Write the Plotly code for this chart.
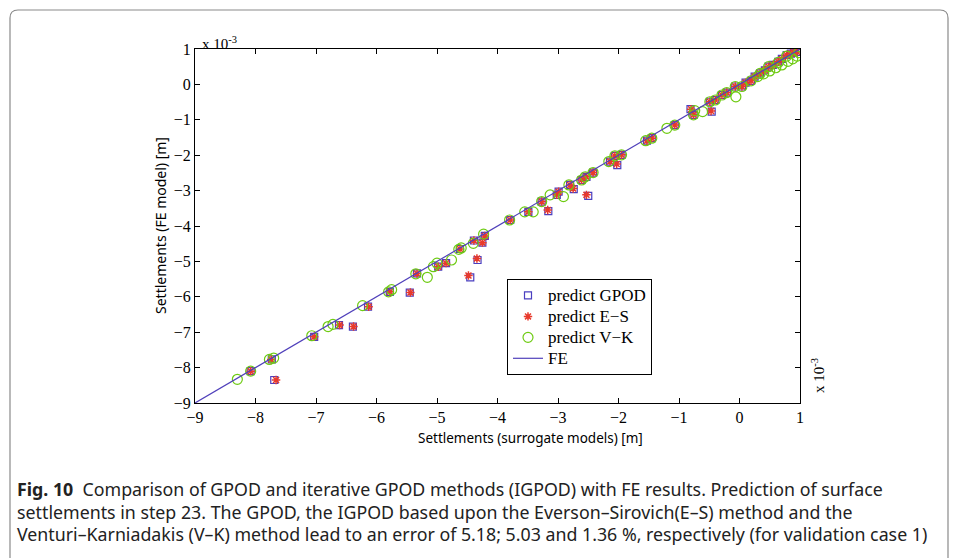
import plotly.graph_objects as go

# values in units of 1e-3 m  (x: surrogate model, y: FE model)
gpod_x = [-8.08, -7.73, -7.69, -7.03, -6.62, -6.39, -6.14, -5.78, -5.45, -5.33, -4.98, -4.85,
          -4.62, -4.45, -4.33, -4.39, -4.25, -4.21, -3.79, -3.49, -3.16, -3.27, -3.02, -2.99,
          -2.80, -2.74, -2.50, -2.61, -2.53, -2.42, -2.14, -2.02, -2.06, -1.95, -1.53, -1.45,
          -1.07, -0.81, -0.76, -0.46, -0.49, -0.40, -0.29, -0.21, -0.07, 0.04, 0.10, 0.19,
          0.25, 0.34, 0.42, 0.48, 0.55, 0.64, 0.70, 0.78, 0.85, 0.90, 0.95]
gpod_y = [-8.10, -7.77, -8.35, -7.13, -6.80, -6.84, -6.28, -5.86, -5.88, -5.34, -5.15, -5.05,
          -4.65, -5.45, -4.96, -4.41, -4.47, -4.28, -3.83, -3.60, -3.58, -3.31, -3.12, -3.03,
          -2.84, -2.96, -3.15, -2.70, -2.61, -2.49, -2.18, -2.28, -2.02, -1.99, -1.59, -1.52,
          -1.15, -0.70, -0.86, -0.77, -0.49, -0.44, -0.30, -0.23, -0.06, -0.06, 0.05, 0.10,
          0.22, 0.31, 0.40, 0.50, 0.55, 0.64, 0.72, 0.83, 0.87, 0.90, 0.92]

es_x = [-8.08, -7.74, -7.66, -7.03, -6.61, -6.38, -6.13, -5.78, -5.44, -5.33, -4.98, -4.85,
        -4.62, -4.48, -4.34, -4.39, -4.25, -4.21, -3.79, -3.49, -3.17, -3.27, -3.02, -2.99,
        -2.80, -2.75, -2.53, -2.61, -2.53, -2.42, -2.14, -2.03, -2.06, -1.95, -1.53, -1.45,
        -1.07, -0.80, -0.76, -0.47, -0.49, -0.40, -0.29, -0.21, -0.07, 0.04, 0.10, 0.19,
        0.25, 0.34, 0.42, 0.48, 0.55, 0.64, 0.70, 0.78, 0.85, 0.90, 0.95]
es_y = [-8.10, -7.77, -8.35, -7.13, -6.80, -6.84, -6.28, -5.86, -5.88, -5.34, -5.15, -5.05,
        -4.65, -5.40, -4.92, -4.41, -4.47, -4.28, -3.83, -3.60, -3.55, -3.31, -3.12, -3.03,
        -2.84, -2.94, -3.12, -2.70, -2.61, -2.49, -2.18, -2.25, -2.02, -1.99, -1.59, -1.52,
        -1.15, -0.70, -0.86, -0.75, -0.49, -0.44, -0.30, -0.23, -0.06, -0.06, 0.05, 0.10,
        0.22, 0.31, 0.40, 0.50, 0.55, 0.64, 0.72, 0.83, 0.87, 0.90, 0.92]

vk_x = [-8.30, -8.08, -7.77, -7.70, -7.07, -6.80, -6.72, -6.23, -5.80, -5.75, -5.35, -5.16,
        -5.06, -5.00, -4.76, -4.64, -4.60, -4.40, -4.23, -3.80, -3.55, -3.41, -3.27, -3.13,
        -2.91, -2.82, -2.61, -2.55, -2.42, -2.16, -2.06, -1.95, -1.55, -1.45, -1.20, -1.07,
        -0.74, -0.61, -0.76, -0.49, -0.40, -0.29, -0.21, -0.06, -0.07, 0.04, 0.19, 0.30,
        0.34, 0.40, 0.48, 0.50, 0.60, 0.64, 0.70, 0.78, 0.80, 0.88, 0.95, 0.98]
vk_y = [-8.33, -8.10, -7.77, -7.73, -7.10, -6.84, -6.78, -6.25, -5.86, -5.80, -5.35, -5.45,
        -5.15, -5.05, -4.96, -4.66, -4.62, -4.49, -4.23, -3.83, -3.60, -3.60, -3.31, -3.12,
        -3.17, -2.84, -2.70, -2.61, -2.49, -2.18, -2.02, -1.99, -1.59, -1.52, -1.24, -1.15,
        -0.74, -0.77, -0.86, -0.49, -0.44, -0.30, -0.23, -0.35, -0.06, -0.06, 0.10, 0.22,
        0.31, 0.30, 0.50, 0.38, 0.47, 0.62, 0.55, 0.80, 0.65, 0.72, 0.80, 0.90]

fe_x = [-9, 1]
fe_y = [-9, 1]

x_ticks = [-9, -8, -7, -6, -5, -4, -3, -2, -1, 0, 1]
y_ticks = [-9, -8, -7, -6, -5, -4, -3, -2, -1, 0, 1]

series_names = ["predict GPOD", "predict E−S", "predict V−K", "FE"]
x_title = "Settlements (surrogate models) [m]"
y_title = "Settlements (FE model) [m]"
caption_lines = [
    "<b>Fig. 10</b>  Comparison of GPOD and iterative GPOD methods (IGPOD) with FE results. Prediction of surface",
    "settlements in step 23. The GPOD, the IGPOD based upon the Everson–Sirovich(E–S) method and the",
    "Venturi–Karniadakis (V–K) method lead to an error of 5.18; 5.03 and 1.36 %, respectively (for validation case 1)",
]

W, H = 958, 558
L, R, T, B = 195, 800, 49, 403


def px(x):
    return (x - L) / (R - L)


def py(y):
    return (B - y) / (B - T)


def big(name):
    return f"<span style='font-size:17px'>{name}</span>"


serif = "Liberation Serif"
sans = "Noto Sans"

fig = go.Figure()
fig.add_trace(go.Scatter(x=gpod_x, y=gpod_y, mode="markers", name=big(series_names[0]),
                         marker=dict(symbol="square-open", size=7, color="#4a3fc0",
                                     line=dict(width=1.2, color="#4a3fc0"))))
fig.add_trace(go.Scatter(x=es_x, y=es_y, mode="markers", name=big(series_names[1]),
                         marker=dict(symbol="asterisk-open", size=7, color="#e83a2c",
                                     line=dict(width=1.5, color="#e83a2c"))))
fig.add_trace(go.Scatter(x=vk_x, y=vk_y, mode="markers", name=big(series_names[2]),
                         marker=dict(symbol="circle-open", size=10, color="#6ecb12",
                                     line=dict(width=1.2, color="#6ecb12"))))
fig.add_trace(go.Scatter(x=fe_x, y=fe_y, mode="lines", name=big(series_names[3]),
                         line=dict(color="#5040bb", width=1.2)))

axis_common = dict(
    showline=True, linecolor="black", linewidth=1, mirror="ticks",
    ticks="inside", ticklen=5, tickwidth=1, tickcolor="black",
    showgrid=False, zeroline=False,
    tickfont=dict(family=serif, size=16, color="black"),
)
fig.update_xaxes(range=[-9, 1], tickvals=x_ticks, **axis_common)
fig.update_yaxes(range=[-9, 1], tickvals=y_ticks, **axis_common)

annotations = [
    dict(text=x_title, x=px(530), y=py(438), xref="paper", yref="paper",
         xanchor="center", yanchor="middle",
         showarrow=False, font=dict(family=sans, size=13.5, color="black")),
    dict(text=y_title, x=px(160), y=py(226), xref="paper", yref="paper", textangle=-90,
         xanchor="center", yanchor="middle",
         showarrow=False, font=dict(family=sans, size=14, color="black")),
    dict(text="x 10<sup>-3</sup>", x=px(200), y=py(43), xref="paper", yref="paper",
         xanchor="left", yanchor="middle",
         showarrow=False, font=dict(family=serif, size=15, color="black")),
    dict(text="x 10<sup>-3</sup>", x=px(818), y=py(376), xref="paper", yref="paper",
         xanchor="center", yanchor="middle",
         textangle=-90, showarrow=False, font=dict(family=serif, size=15, color="black")),
]
for i, line in enumerate(caption_lines):
    annotations.append(dict(text=line, x=px(15), y=py(489 + 22.5 * i), xref="paper", yref="paper",
                            xanchor="left", yanchor="middle", showarrow=False,
                            font=dict(family=sans, size=17.8, color="#222222")))

# rounded frame (top, left and right sides; bottom runs off the page)
fx0, fx1, ftop, fbot = px(10), px(948), py(10), py(575)
rx, ry = 8 / (R - L), 8 / (B - T)
frame = (f"M {fx0},{fbot} L {fx0},{ftop - ry} Q {fx0},{ftop} {fx0 + rx},{ftop} "
         f"L {fx1 - rx},{ftop} Q {fx1},{ftop} {fx1},{ftop - ry} L {fx1},{fbot}")

fig.update_layout(
    width=W, height=H,
    margin=dict(l=L, r=W - R, t=T, b=H - B),
    paper_bgcolor="white", plot_bgcolor="white",
    showlegend=True,
    legend=dict(x=px(507), y=py(279), xanchor="left", yanchor="top",
                bordercolor="black", borderwidth=1, bgcolor="white",
                font=dict(family=serif, size=13.8, color="black"),
                itemwidth=30, tracegroupgap=0),
    annotations=annotations,
    shapes=[dict(type="path", path=frame, xref="paper", yref="paper",
                 line=dict(color="#8a8a8a", width=1.2), layer="below")],
)

fig.write_html("out.html", config={"displayModeBar": False},
               post_script="document.body.style.margin='0';document.body.style.overflow='hidden';")
